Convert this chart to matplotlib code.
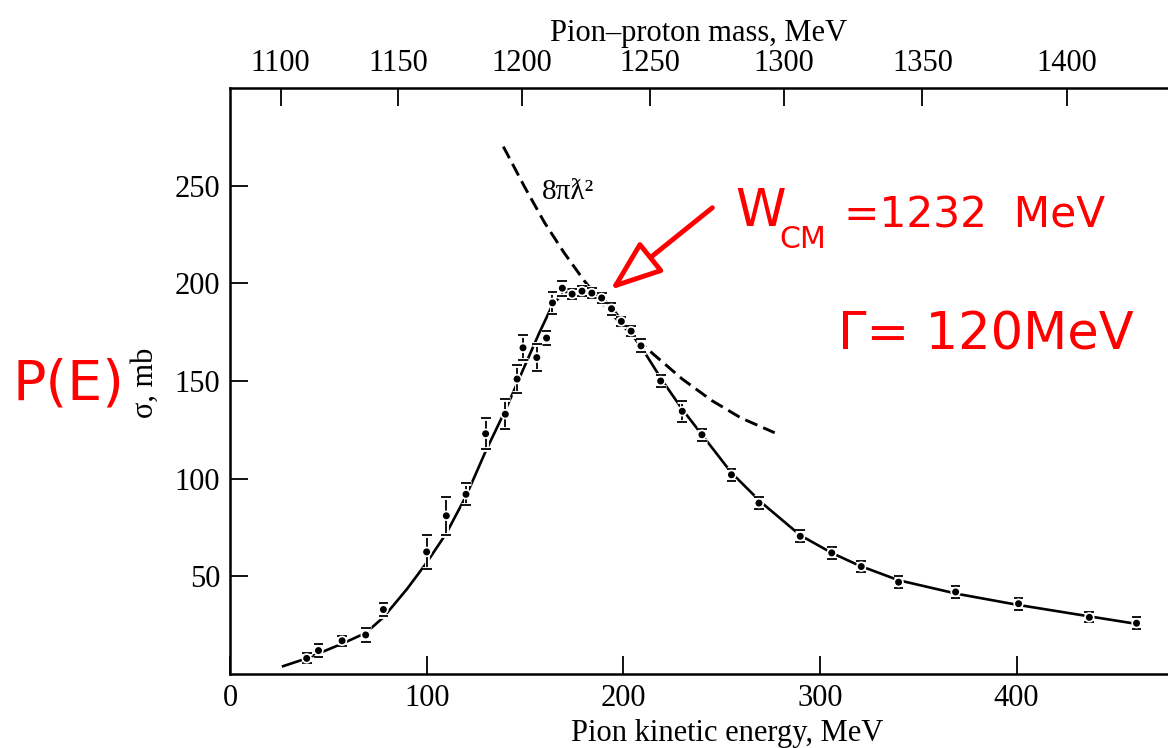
import numpy as np
import matplotlib
matplotlib.use("Agg")
import matplotlib.pyplot as plt
import matplotlib.patheffects as pe
from matplotlib import font_manager

# pi+ p total cross section
T_DATA = [39, 45, 57, 69, 78, 100, 110, 120, 130, 140, 146, 149, 156, 161, 164,
          169, 174, 179, 184, 189, 194, 199, 204, 209, 219, 230, 240, 255, 269,
          290, 306, 321, 340, 369, 401, 437, 461]
SIG_DATA = [8, 12, 17, 20, 33, 62.5, 81, 92, 123, 133, 151, 167, 162, 172, 190,
            197.5, 194.5, 196, 195, 192.5, 187, 180.5, 175.5, 168, 150, 134.5, 122.5,
            102, 87.5, 70.5, 62, 55, 47, 42, 36, 29, 26]
SIG_ERR = [2.5, 3.2, 2.5, 3.4, 3.2, 8.5, 9.7, 5.7, 8, 7.7, 7, 6.5, 7, 3.8, 5.5,
           3.8, 2.5, 2.5, 2.5, 2.5, 3, 2.5, 2.5, 3.4, 3, 5.5, 3, 3, 3,
           3, 3, 3, 3, 3, 3, 2.5, 3]

# solid fitted curve
FIT_T = [27, 39, 45, 57, 69, 78, 90, 100, 110, 120, 130, 140, 150, 157, 164, 170,
         178, 186, 193, 200, 210, 220, 230, 240, 255, 270, 290, 306, 320, 340,
         370, 400, 437, 462]
FIT_SIG = [4, 8, 10.5, 15.5, 21, 29, 43.5, 57, 72, 91, 114, 135, 158, 174, 189, 195.5,
           196.5, 195, 189, 180, 166, 150, 135.5, 122.5, 103, 88, 71, 62, 55.5, 48,
           41, 35.5, 29.5, 25.5]

# dashed 8 pi lambda-bar^2 curve
LAMBDA_T = [139, 150, 160, 170, 180, 190, 200, 215, 230, 245, 260, 277]
LAMBDA_SIG = [270, 249, 231, 215.5, 201.5, 189, 178, 164, 151, 140, 131, 123.5]

X_TICKS = [0, 100, 200, 300, 400]
Y_TICKS = [50, 100, 150, 200, 250]
MASS_TICKS = [1100, 1150, 1200, 1250, 1300, 1350, 1400]

M_P = 938.27
M_PI = 139.57


# kinetic energy of the pion <-> invariant mass of pion-proton
def t_to_w(t):
    s = M_P ** 2 + M_PI ** 2 + 2 * M_P * (np.asarray(t, float) + M_PI)
    return np.sqrt(np.maximum(s, 1.0))


def w_to_t(w):
    w = np.asarray(w, float)
    return (w ** 2 - M_P ** 2 - M_PI ** 2) / (2 * M_P) - M_PI


SERIF = ["Liberation Serif", "DejaVu Serif"]
plt.rcParams["font.family"] = SERIF

names = {f.name for f in font_manager.fontManager.ttflist}
if "Liberation Sans Narrow" in names:
    HAND = ["Liberation Sans Narrow", "DejaVu Sans"]
    k = 1.0
else:
    HAND = ["DejaVu Sans"]
    k = 0.8

W, H = 1168, 748
fig = plt.figure(figsize=(W / 100, H / 100), dpi=100)
ax = fig.add_axes([230 / W, 74 / H, 1 - 230 / W, 586 / H])


def fxy(x, y):
    return x / W, 1 - y / H


ax.plot(FIT_T, FIT_SIG, color="black", lw=1.9, zorder=2)
ax.plot(LAMBDA_T, LAMBDA_SIG, color="black", lw=2.1, dashes=(4.5, 2.2), zorder=2)

eb = ax.errorbar(T_DATA, SIG_DATA, yerr=SIG_ERR, fmt="o", ms=4, color="black",
                 elinewidth=1.3, capsize=3.5, capthick=1.3, zorder=3)
halo = [pe.withStroke(linewidth=3.5, foreground="white")]
eb[0].set_path_effects(halo)
for c in eb[1]:
    c.set_path_effects(halo)
for b in eb[2]:
    b.set_path_effects(halo)

ax.text(158.5, 247, "8πƛ²", fontsize=21, family=SERIF, ha="left", va="center")

ax.set_xlim(0, 477)
ax.set_ylim(0, 300)
ax.set_xticks(X_TICKS)
ax.set_yticks(Y_TICKS)
ax.tick_params(direction="in", length=13, width=1.3, labelsize=22, pad=7,
               top=False, right=False)
for side in ["left", "bottom"]:
    ax.spines[side].set_linewidth(1.8)
ax.spines["right"].set_visible(False)
ax.spines["top"].set_visible(False)

ax.set_xlabel("Pion kinetic energy, MeV", fontsize=22)
ax.xaxis.set_label_coords(0.53, -0.076)
ax.set_ylabel("σ, mb", fontsize=22)
ax.yaxis.set_label_coords(-0.075, 0.497)

sec = ax.secondary_xaxis("top", functions=(t_to_w, w_to_t))
sec.set_xticks(MASS_TICKS)
sec.tick_params(direction="in", length=13, width=1.3, labelsize=22, pad=7)
sec.spines["top"].set_linewidth(1.8)
sec.set_xlabel("Pion–proton mass, MeV", fontsize=22, labelpad=6)

# red hand-written notes
RED = "#ff0000"
ax.annotate("", xy=(193.4, 196.7), xytext=(245.3, 238.7),
            arrowprops=dict(arrowstyle="-|>,head_length=1.6,head_width=0.6",
                            mutation_scale=20, ec=RED, fc="white", lw=3.5,
                            shrinkA=0, shrinkB=0), zorder=5)
fig.text(*fxy(735, 226), "W", color=RED, fontsize=46 * k, family=HAND,
         ha="left", va="baseline")
fig.text(*fxy(779, 248), "CM", color=RED, fontsize=27 * k, family=HAND,
         ha="left", va="baseline")
fig.text(*fxy(1105, 227), "=1232  MeV", color=RED, fontsize=38 * k, family=HAND,
         ha="right", va="baseline")
fig.text(*fxy(986, 350), "Γ= 120MeV", color=RED, fontsize=46 * k, family=HAND,
         ha="center", va="baseline")
fig.text(*fxy(68, 385), "P(E)", color=RED, fontsize=50 * k, family=HAND,
         ha="center", va="center")

fig.savefig("out.png", dpi=100)
